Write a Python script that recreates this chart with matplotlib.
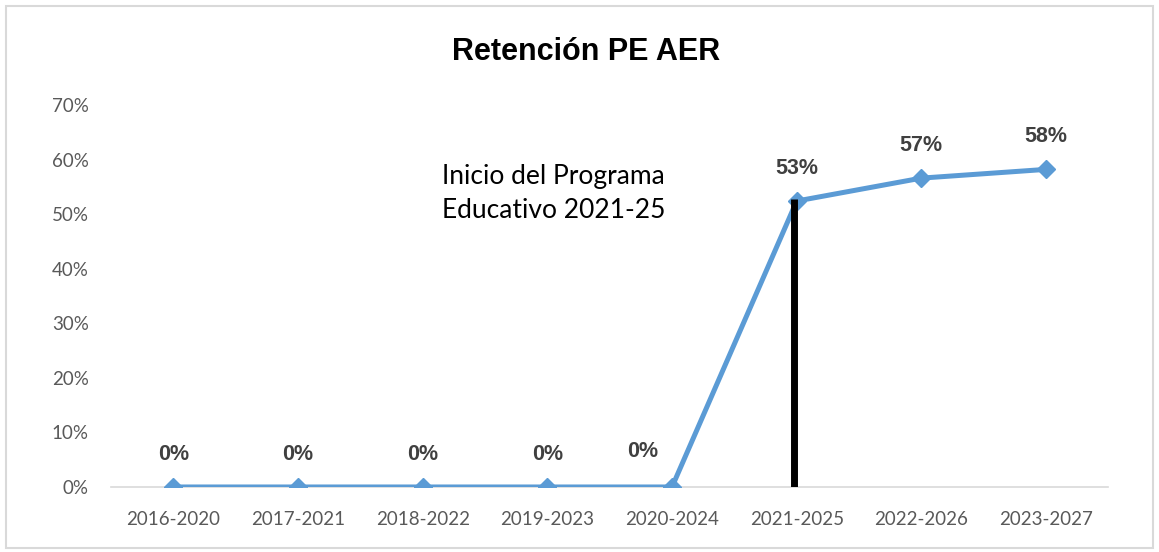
import matplotlib.pyplot as plt
from matplotlib.patches import Rectangle
from matplotlib import font_manager

# data
periods = ["2016-2020", "2017-2021", "2018-2022", "2019-2023", "2020-2024",
           "2021-2025", "2022-2026", "2023-2027"]
retention = [0.0, 0.0, 0.0, 0.0, 0.0, 0.524, 0.566, 0.582]
labels = ["0%", "0%", "0%", "0%", "0%", "53%", "57%", "58%"]
start_idx = 5
start_top = 0.527
y_ticks = [0, 0.1, 0.2, 0.3, 0.4, 0.5, 0.6, 0.7]

names = {f.name for f in font_manager.fontManager.ttflist}
narrow = "Liberation Sans Narrow" if "Liberation Sans Narrow" in names else "Liberation Sans"
body = "Lato" if "Lato" in names else "DejaVu Sans"

fig = plt.figure(figsize=(11.59, 5.52), dpi=100)
ax = fig.add_axes([0.0958, 0.1178, 0.8605, 0.692])

x = list(range(len(periods)))

# vertical marker for the start of the programme
ax.plot([start_idx - 0.02, start_idx - 0.02], [0, start_top], color="black",
        linewidth=5, solid_capstyle="butt", zorder=4)

# curve
ax.plot(x, retention, "D-", color="#5B9BD5", linewidth=3.6, markersize=9,
        zorder=3)

# data labels
for i, (v, t) in enumerate(zip(retention, labels)):
    dx = -21 if i == 4 else 0
    dy = 23.5 if i != 4 else 25.5
    ax.annotate(t, (i, v), xytext=(dx, dy), textcoords="offset points",
                ha="center", va="center", fontsize=15.5, fontweight="bold",
                family=narrow, color="#404040")

# note
ax.text(3.05, 0.5375, "Inicio del Programa\nEducativo 2021-25", ha="center",
        va="center", fontsize=19, family=body, color="black", linespacing=1.42)

# axes
ax.set_xlim(-0.5, len(periods) - 0.5)
ax.set_ylim(0, 0.7)
ax.set_xticks(x, periods)
ax.set_yticks(y_ticks, [f"{int(round(v * 100))}%" for v in y_ticks])
for s in ["top", "right", "left"]:
    ax.spines[s].set_visible(False)
ax.spines["bottom"].set_color("#D9D9D9")
ax.spines["bottom"].set_linewidth(1.2)
ax.tick_params(length=0, labelsize=13.5, labelcolor="#595959")
ax.tick_params(axis="x", pad=17)
ax.tick_params(axis="y", pad=16)
for lab in ax.get_xticklabels() + ax.get_yticklabels():
    lab.set_family(body)

# title
fig.text(0.506, 0.905, "Retención PE AER", ha="center", va="center",
         fontsize=22, fontweight="bold", family=narrow, color="black")

# outer frame
fig.patches.append(Rectangle((0.005, 0.008), 0.99, 0.982,
                             transform=fig.transFigure, fill=False,
                             edgecolor="#D9D9D9", linewidth=1.5))

plt.savefig("out.png", dpi=100)
